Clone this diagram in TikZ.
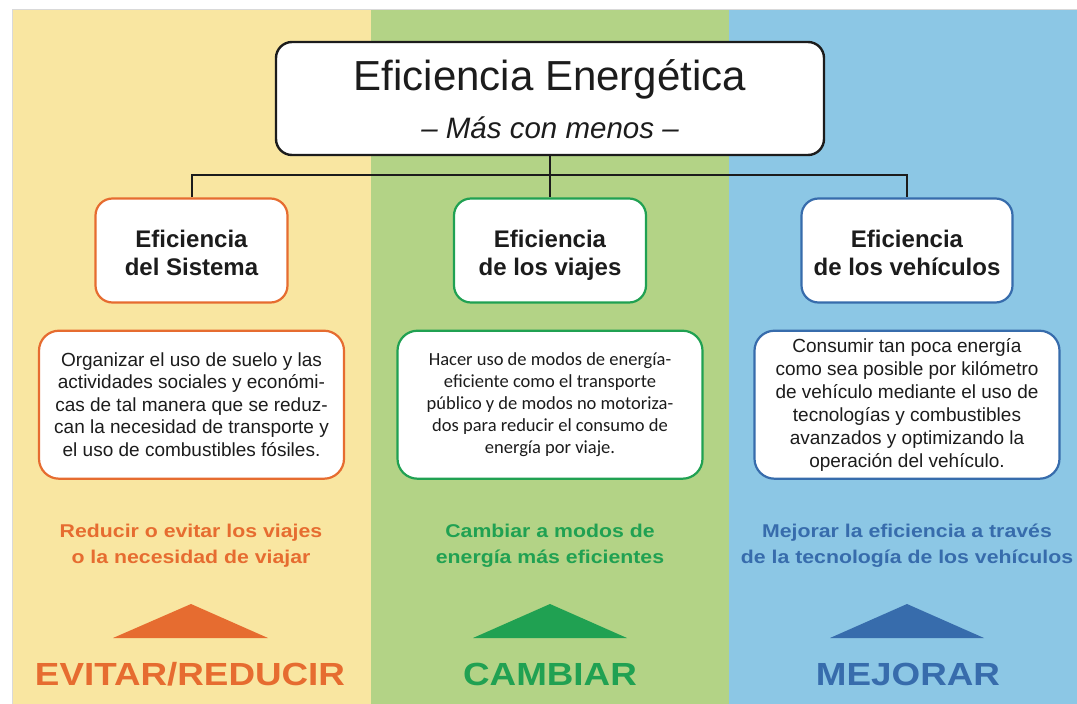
\documentclass[tikz,border=0pt]{standalone}
\usepackage{fontspec}
\setmainfont{Liberation Sans}
\newfontfamily\descfont{Carlito}
\newfontfamily\widefont[FakeStretch=1.15]{Liberation Sans}
\usetikzlibrary{positioning}

\definecolor{bgyellow}{RGB}{249,230,161}
\definecolor{bggreen}{RGB}{179,211,134}
\definecolor{bgblue}{RGB}{140,199,229}
\definecolor{evorange}{RGB}{230,108,48}
\definecolor{cbgreen}{RGB}{32,161,82}
\definecolor{mjblue}{RGB}{55,108,172}
\definecolor{inkgray}{RGB}{28,28,28}

% invisible struts so every header sits at the same height
\newcommand{\hdtop}{\rule{0pt}{27pt}}
\newcommand{\hdbot}{\rule[-6pt]{0pt}{6pt}}

\begin{document}
\begin{tikzpicture}[
    x=1pt, y=-1pt,
    node distance=26pt,
    titlebox/.style={draw=inkgray, line width=2.4pt, rounded corners=16pt, fill=white, minimum width=548pt, minimum height=113pt, inner sep=0pt},
    headbox/.style={draw, line width=2.2pt, rounded corners=17pt, fill=white, minimum width=192pt, minimum height=104pt, inner sep=0pt, align=center, font=\fontsize{24}{28}\selectfont\bfseries, text=inkgray},
    descbox/.style={draw, line width=2.2pt, rounded corners=20pt, fill=white, minimum width=305pt, minimum height=148pt, inner sep=0pt, align=center, font=\fontsize{19}{22.5}\selectfont, text=inkgray},
    goaltext/.style={inner sep=0pt, anchor=base, font=\widefont\fontsize{18.5}{26}\selectfont\bfseries},
    bigword/.style={inner sep=0pt, anchor=base, font=\widefont\fontsize{32}{36}\selectfont\bfseries},
    link/.style={line width=2pt, draw=inkgray}
]
\useasboundingbox (0,0) rectangle (1077,704);
\fill[white] (0,0) rectangle (1077,704);

% three columns
\fill[bgyellow] (12,9) rectangle (371,704);
\fill[bggreen] (371,9) rectangle (729,704);
\fill[bgblue] (729,9) rectangle (1077,704);
\draw[line width=1pt, draw=gray!30] (12.5,704) -- (12.5,9.5) -- (1077,9.5);

% title
\node[titlebox] (title) at (550,98.5) {};
\node[anchor=base, font=\fontsize{42}{48}\selectfont, text=inkgray] (titlemain) at (550,90) {Eficiencia Energética};
\node[anchor=base, font=\fontsize{29.5}{34}\selectfont\itshape, text=inkgray] (titlesub) at (550,138) {– Más con menos –};

% headers
\node[headbox, draw=evorange] (sistema) at (191.5,250.5) {\hdtop Eficiencia\\del Sistema\hdbot};
\node[headbox, draw=cbgreen] (viajes) at (550,250.5) {\hdtop Eficiencia\\de los viajes\hdbot};
\node[headbox, draw=mjblue, minimum width=211pt] (vehiculos) at (907,250.5) {\hdtop Eficiencia\\de los vehículos\hdbot};

\coordinate (hub) at (550,175);
\draw[link] (title.south) -- (viajes.north);
\draw[link] (sistema.north) |- (hub) -| (vehiculos.north);

% descriptions
\node[descbox, draw=evorange, below=of sistema] (sistemadesc) {Organizar el uso de suelo y las\\actividades sociales y económi-\\cas de tal manera que se reduz-\\can la necesidad de transporte y\\el uso de combustibles fósiles.};
\node[descbox, draw=cbgreen, below=of viajes, font=\descfont\fontsize{18.5}{22}\selectfont] (viajesdesc) {Hacer uso de modos de energía-\\eficiente como el transporte\\público y de modos no motoriza-\\dos para reducir el consumo de\\energía por viaje.};
\node[descbox, draw=mjblue, below=of vehiculos, font=\fontsize{19}{23}\selectfont] (vehiculosdesc) {Consumir tan poca energía\\como sea posible por kilómetro\\de vehículo mediante el uso de\\tecnologías y combustibles\\avanzados y optimizando la\\operación del vehículo.};

% goals
\node[goaltext, text=evorange] (sistemagoal) at (191,537) {Reducir o evitar los viajes};
\node[goaltext, text=evorange] (sistemagoalb) at (191,563) {o la necesidad de viajar};
\node[goaltext, text=cbgreen] (viajesgoal) at (550,537) {Cambiar a modos de};
\node[goaltext, text=cbgreen] (viajesgoalb) at (550,563) {energía más eficientes};
\node[goaltext, text=mjblue] (vehiculosgoal) at (907,537) {Mejorar la eficiencia a través};
\node[goaltext, text=mjblue] (vehiculosgoalb) at (907,563) {de la tecnología de los vehículos};

% arrows up
\fill[evorange] (113,638) -- (191,604) -- (268,638) -- cycle;
\fill[cbgreen] (473,638) -- (550,604) -- (627,638) -- cycle;
\fill[mjblue] (830,638) -- (907,604) -- (984,638) -- cycle;

\node[bigword, text=evorange] (evitar) at (190,685) {EVITAR/REDUCIR};
\node[bigword, text=cbgreen] (cambiar) at (550,685) {CAMBIAR};
\node[bigword, text=mjblue] (mejorar) at (908,685) {MEJORAR};
\end{tikzpicture}
\end{document}
